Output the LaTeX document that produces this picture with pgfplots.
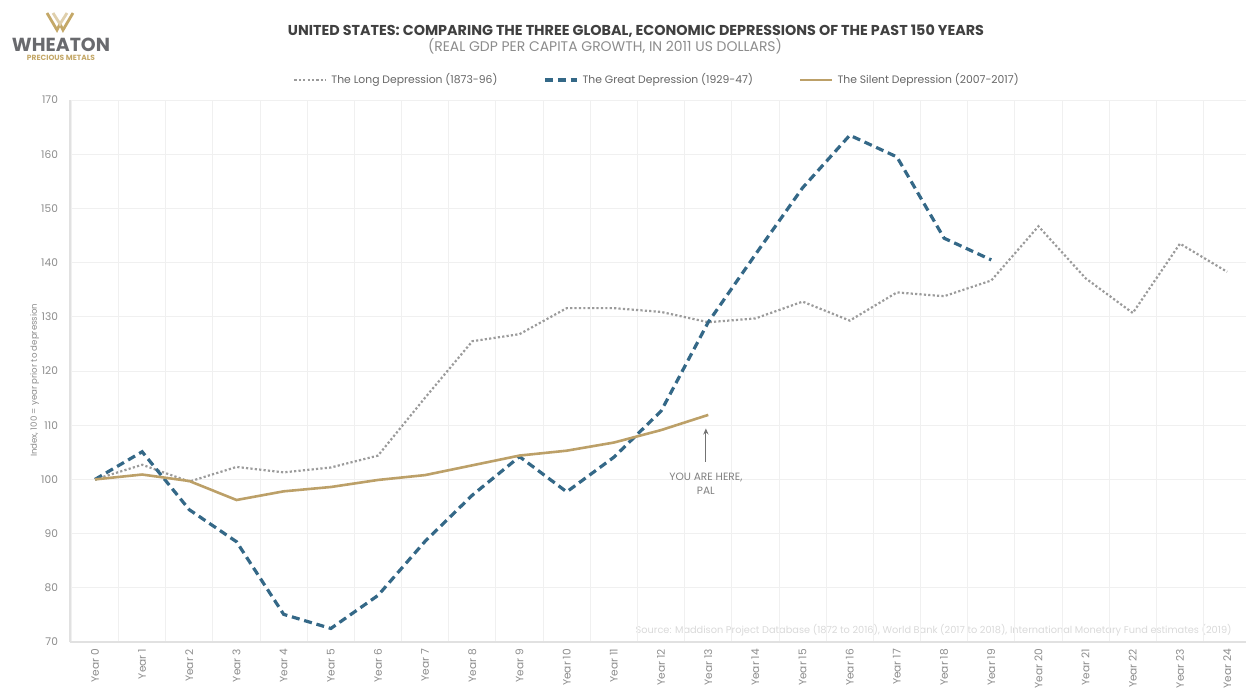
\documentclass[border=0pt]{standalone}
\usepackage{pgfplots}
\pgfplotsset{compat=1.18}
\usepackage{pgfplotstable}
\usepackage{fontspec}
\setmainfont{Poppins}
\usetikzlibrary{arrows.meta}

\definecolor{greatblue}{RGB}{52,104,135}
\definecolor{silentgold}{RGB}{188,160,104}
\definecolor{longgray}{RGB}{155,155,155}
\definecolor{ticktext}{RGB}{140,140,140}
\definecolor{gridc}{RGB}{240,240,240}
\definecolor{axisc}{RGB}{225,225,225}
\definecolor{logogray}{RGB}{105,106,110}
\definecolor{logogold}{RGB}{196,168,104}

% Real GDP per capita, index = 100 in the year before each depression
\pgfplotstableread{
year idx
0 100
1 102.7
2 99.6
3 102.3
4 101.3
5 102.2
6 104.4
7 115.1
8 125.5
9 126.8
10 131.6
11 131.6
12 130.9
13 129.0
14 129.7
15 132.8
16 129.3
17 134.5
18 133.8
19 136.7
20 146.7
21 137.1
22 130.7
23 143.5
24 138.3
}\longdep

\pgfplotstableread{
year idx
0 100
1 105.1
2 94.4
3 88.5
4 75.1
5 72.5
6 78.6
7 88.6
8 97.1
9 104.2
10 97.7
11 104.1
12 112.6
13 129.0
14 141.5
15 153.8
16 163.5
17 159.5
18 144.5
19 140.5
}\greatdep

\pgfplotstableread{
year idx
0 100
1 100.9
2 99.7
3 96.2
4 97.8
5 98.6
6 99.9
7 100.8
8 102.6
9 104.4
10 105.3
11 106.8
12 109.1
13 111.9
}\silentdep

\begin{document}
\begin{tikzpicture}
\useasboundingbox (0,0) rectangle (624pt,346.5pt);

% logo
\begin{scope}[line join=miter]
  \draw[logogold, line width=1.4pt] (23.5pt,340pt) -- (28.5pt,331.5pt) -- (30pt,334.5pt) -- (31.5pt,331.5pt) -- (36.5pt,340pt);
  \draw[logogold!55, line width=1.4pt] (26.5pt,340pt) -- (30pt,334.5pt) -- (33.5pt,340pt);
\end{scope}
\node[logogray, inner sep=0pt] at (30.5pt,324pt)
  {\resizebox{49pt}{!}{\bfseries WHEATON}};
\node[logogold, inner sep=0pt] at (30.5pt,317.5pt)
  {\resizebox{34pt}{!}{\bfseries PRECIOUS METALS}};

% titles
\node[inner sep=0pt, text=black!75] at (318pt,331pt)
  {\resizebox{348pt}{!}{\bfseries UNITED STATES: COMPARING THE THREE GLOBAL, ECONOMIC DEPRESSIONS OF THE PAST 150 YEARS}};
\node[inner sep=0pt, text=black!45] at (302.5pt,323.5pt)
  {\resizebox{177pt}{!}{(REAL GDP PER CAPITA GROWTH, IN 2011 US DOLLARS)}};

% source note
\node[inner sep=0pt, anchor=east, text=black!15] at (616pt,31.5pt)
  {\resizebox{298pt}{!}{Source: Maddison Project Database (1872 to 2016), World Bank (2017 to 2018), International Monetary Fund estimates (2019)}};

\begin{axis}[
  at={(35pt,25.5pt)}, anchor=south west,
  scale only axis,
  width=588pt, height=271pt,
  xmin=-0.53, xmax=24.4,
  ymin=70, ymax=170,
  ytick={70,80,...,170},
  xtick={0,...,24},
  xticklabels={Year 0,Year 1,Year 2,Year 3,Year 4,Year 5,Year 6,Year 7,Year 8,Year 9,Year 10,Year 11,Year 12,Year 13,Year 14,Year 15,Year 16,Year 17,Year 18,Year 19,Year 20,Year 21,Year 22,Year 23,Year 24},
  minor xtick={-0.5,0.5,...,23.5},
  axis lines=left,
  axis line style={draw=axisc, line width=0.6pt, -},
  major tick length=0pt, minor tick length=0pt,
  ymajorgrids=true, xminorgrids=true,
  grid style={draw=gridc, line width=0.5pt},
  minor grid style={draw=gridc, line width=0.5pt},
  /pgf/number format/assume math mode=true,
  tick label style={text=ticktext, font=\fontsize{5.3}{6}\selectfont},
  xticklabel style={rotate=90, anchor=east, xshift=0pt},
  yticklabel style={xshift=-2.5pt},
  ylabel={Index, 100 = year prior to depression},
  ylabel style={at={(axis description cs:-0.03,0.483)}, anchor=center,
    text=ticktext, font=\fontsize{4.3}{5}\selectfont},
  legend style={
    at={(0.5,1.0)}, yshift=17.5pt, anchor=north,
    draw=none, fill=none,
    legend columns=3,
    font=\fontsize{5.4}{6.5}\selectfont,
    text=black!60,
    /tikz/every even column/.append style={column sep=21pt},
  },
  legend image code/.code={\draw[#1] (0pt,0pt) -- (16pt,0pt);},
  clip=false,
]
\addplot[longgray, line width=1.1pt, dash pattern=on 1.1pt off 1.1pt] table[x=year,y=idx] {\longdep};
\addlegendentry{The Long Depression (1873-96)}
\addplot[greatblue, line width=1.6pt, dash pattern=on 4pt off 2.4pt] table[x=year,y=idx] {\greatdep};
\addlegendentry{The Great Depression (1929-47)}
\addplot[silentgold, line width=1.3pt] table[x=year,y=idx] {\silentdep};
\addlegendentry{The Silent Depression (2007-2017)}

% annotation for the latest year
\draw[-{Stealth[length=3pt,width=2.6pt]}, black!55, line width=0.5pt] (axis cs:12.95,103.3) -- (axis cs:12.95,109.4);
\node[text=black!50, font=\fontsize{5.3}{6.6}\selectfont, align=center, anchor=north] at (axis cs:12.95,102.4) {YOU ARE HERE,\\PAL};
\end{axis}
\end{tikzpicture}
\end{document}
